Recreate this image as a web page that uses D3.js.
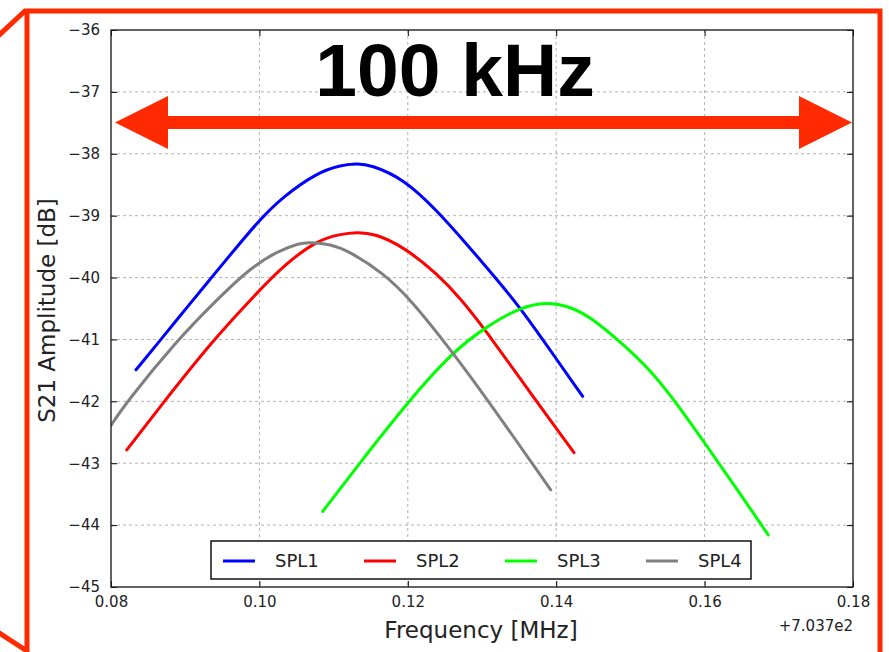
<!DOCTYPE html>
<html><head><meta charset="utf-8">
<script src="https://cdn.jsdelivr.net/npm/d3@7"></script>
<style>body{margin:0;background:#fff}svg{display:block}</style>
</head><body>
<svg id="c" width="889" height="652"></svg>
<script>
// ---------- data (frequency offset from 703.7 MHz, amplitude dB) ----------
const seriesNames = ["SPL1", "SPL2", "SPL3", "SPL4"];
const seriesColors = ["#0000ff", "#ff0000", "#00ff00", "#808080"];

const spl1Freq = [0.08337, 0.08660, 0.08997, 0.09334, 0.09671, 0.10008, 0.10322, 0.10772, 0.11086, 0.11315, 0.11490, 0.11939, 0.12389, 0.12794, 0.13243, 0.13512, 0.13782, 0.14357];
const spl1Amp  = [-41.49, -41.02, -40.52, -40.03, -39.54, -39.06, -38.69, -38.31, -38.185, -38.16, -38.175, -38.40, -38.91, -39.46, -40.09, -40.49, -40.94, -41.92];

const spl2Freq = [0.08212, 0.08718, 0.09379, 0.09981, 0.10322, 0.10772, 0.11086, 0.11311, 0.11558, 0.11939, 0.12389, 0.12726, 0.13017, 0.13691, 0.14240];
const spl2Amp  = [-42.785, -42.00, -41.005, -40.23, -39.81, -39.40, -39.30, -39.265, -39.29, -39.50, -39.93, -40.36, -40.80, -41.93, -42.83];

const spl3Freq = [0.10853, 0.11356, 0.12007, 0.12613, 0.13063, 0.13512, 0.13872, 0.14186, 0.14456, 0.14904, 0.15264, 0.15624, 0.16005, 0.16432, 0.16858];
const spl3Amp  = [-43.78, -42.99, -42.00, -41.19, -40.79, -40.48, -40.39, -40.47, -40.63, -41.08, -41.49, -42.03, -42.68, -43.41, -44.16];

const spl4Freq = [0.08000, 0.08198, 0.08885, 0.09425, 0.09873, 0.10233, 0.10547, 0.10682, 0.10952, 0.11221, 0.11670, 0.12030, 0.12613, 0.13108, 0.13926];
const spl4Amp  = [-42.39, -42.03, -41.02, -40.36, -39.85, -39.58, -39.44, -39.43, -39.46, -39.58, -39.93, -40.34, -41.22, -42.03, -43.43];

const xTickValues = [0.08, 0.10, 0.12, 0.14, 0.16, 0.18];
const xTickLabels = ["0.08", "0.10", "0.12", "0.14", "0.16", "0.18"];
const yTickValues = [-45, -44, -43, -42, -41, -40, -39, -38, -37, -36];
const yTickLabels = ["\u221245", "\u221244", "\u221243", "\u221242", "\u221241", "\u221240", "\u221239", "\u221238", "\u221237", "\u221236"];
const xOffsetLabel = "+7.037e2";
const xTitle = "Frequency [MHz]";
const yTitle = "S21 Amplitude [dB]";
const bandLabel = "100 kHz";
const bandStart = 0.08, bandEnd = 0.18;

// ---------- layout ----------
const W = 889, H = 652;
const m = {left: 111, top: 30, right: 36, bottom: 65};
const pw = W - m.left - m.right, ph = H - m.top - m.bottom;
const svg = d3.select("#c");
const FONT = "'DejaVu Sans', Verdana, sans-serif";
const RED = "#ff2a00";

const x = d3.scaleLinear().domain([0.08, 0.18]).range([m.left, m.left + pw]);
const y = d3.scaleLinear().domain([-45, -36]).range([m.top + ph, m.top]);

// slide frame
svg.append("rect").attr("x", 27).attr("y", 11).attr("width", 853).attr("height", 660)
  .attr("fill", "none").attr("stroke", RED).attr("stroke-width", 5);
svg.append("line").attr("x1", 26).attr("y1", 10).attr("x2", -4).attr("y2", 38)
  .attr("stroke", RED).attr("stroke-width", 5);
svg.append("line").attr("x1", 27).attr("y1", 651).attr("x2", -4).attr("y2", 631)
  .attr("stroke", RED).attr("stroke-width", 5);

// grid
const grid = svg.append("g").attr("stroke", "#b3b3b3").attr("stroke-width", 1).attr("stroke-dasharray", "3,3");
xTickValues.slice(1, -1).forEach(v => grid.append("line")
  .attr("x1", x(v)).attr("x2", x(v)).attr("y1", m.top).attr("y2", m.top + ph));
yTickValues.slice(1, -1).forEach(v => grid.append("line")
  .attr("y1", y(v)).attr("y2", y(v)).attr("x1", m.left).attr("x2", m.left + pw));

// curves
svg.append("clipPath").attr("id", "clip").append("rect")
  .attr("x", m.left).attr("y", m.top).attr("width", pw).attr("height", ph);
const series = [
  {freq: spl1Freq, amp: spl1Amp},
  {freq: spl2Freq, amp: spl2Amp},
  {freq: spl3Freq, amp: spl3Amp},
  {freq: spl4Freq, amp: spl4Amp}
];
const line = d3.line().x(d => x(d[0])).y(d => y(d[1])).curve(d3.curveBasis);
const cg = svg.append("g").attr("clip-path", "url(#clip)");
series.forEach((s, i) => {
  cg.append("path").datum(s.freq.map((f, j) => [f, s.amp[j]]))
    .attr("d", line).attr("fill", "none").attr("stroke", seriesColors[i])
    .attr("stroke-width", 3).attr("stroke-linecap", "round").attr("stroke-linejoin", "round");
});

// axes
const axB = d3.axisBottom(x).tickValues(xTickValues).tickFormat((d, i) => xTickLabels[i])
  .tickSizeInner(-6).tickSizeOuter(0).tickPadding(9);
const axL = d3.axisLeft(y).tickValues(yTickValues).tickFormat((d, i) => yTickLabels[i])
  .tickSizeInner(-6).tickSizeOuter(0).tickPadding(11);
const axT = d3.axisTop(x).tickValues(xTickValues).tickFormat("").tickSizeInner(-6).tickSizeOuter(0);
const axR = d3.axisRight(y).tickValues(yTickValues).tickFormat("").tickSizeInner(-6).tickSizeOuter(0);
function styleAxis(g) {
  g.select(".domain").remove();
  g.selectAll(".tick line").attr("stroke", "#000").attr("stroke-width", 1);
  g.selectAll("text").attr("fill", "#222").style("font-family", FONT).style("font-size", "15px");
}
svg.append("g").attr("transform", `translate(0,${m.top + ph})`).call(axB).call(styleAxis);
svg.append("g").attr("transform", `translate(${m.left},0)`).call(axL).call(styleAxis);
svg.append("g").attr("transform", `translate(0,${m.top})`).call(axT).call(styleAxis);
svg.append("g").attr("transform", `translate(${m.left + pw},0)`).call(axR).call(styleAxis);

// spines
svg.append("rect").attr("x", m.left).attr("y", m.top).attr("width", pw).attr("height", ph)
  .attr("fill", "none").attr("stroke", "#222").attr("stroke-width", 1.4);

// offset text
svg.append("text").attr("x", m.left + pw).attr("y", 631).attr("text-anchor", "end")
  .style("font-family", FONT).style("font-size", "15px").attr("fill", "#222").text(xOffsetLabel);

// axis titles
svg.append("text").attr("x", 481).attr("y", 638).attr("text-anchor", "middle")
  .style("font-family", FONT).style("font-size", "23px").attr("fill", "#222").text(xTitle);
svg.append("text").attr("transform", `translate(55,${m.top + ph / 2 + 2}) rotate(-90)`).attr("text-anchor", "middle")
  .style("font-family", FONT).style("font-size", "23px").attr("fill", "#222").text(yTitle);

// legend
const lg = svg.append("g");
lg.append("rect").attr("x", 211).attr("y", 541).attr("width", 540).attr("height", 38)
  .attr("fill", "#fff").attr("stroke", "#000").attr("stroke-width", 1.4);
seriesNames.forEach((n, i) => {
  const x0 = 223 + i * 141;
  lg.append("line").attr("x1", x0).attr("x2", x0 + 32).attr("y1", 561).attr("y2", 561)
    .attr("stroke", seriesColors[i]).attr("stroke-width", 3);
  lg.append("text").attr("x", x0 + 52).attr("y", 567).style("font-family", FONT)
    .style("font-size", "18px").attr("fill", "#222").text(n);
});

// 100 kHz arrow
const ax1 = x(bandStart) + 4, ax2 = x(bandEnd) - 1, ay = 122.5, hl = 53, hh = 26.5, st = 6.5;
svg.append("path").attr("fill", RED).attr("d",
  `M${ax1},${ay} L${ax1 + hl},${ay - hh} L${ax1 + hl},${ay - st} L${ax2 - hl},${ay - st} L${ax2 - hl},${ay - hh}
   L${ax2},${ay} L${ax2 - hl},${ay + hh} L${ax2 - hl},${ay + st} L${ax1 + hl},${ay + st} L${ax1 + hl},${ay + hh} Z`);
svg.append("text").attr("x", 455).attr("y", 96).attr("text-anchor", "middle")
  .style("font-family", "'Liberation Sans', Arial, sans-serif").style("font-weight", "bold")
  .style("font-size", "75px").attr("fill", "#000").text(bandLabel);
</script>
</body></html>
